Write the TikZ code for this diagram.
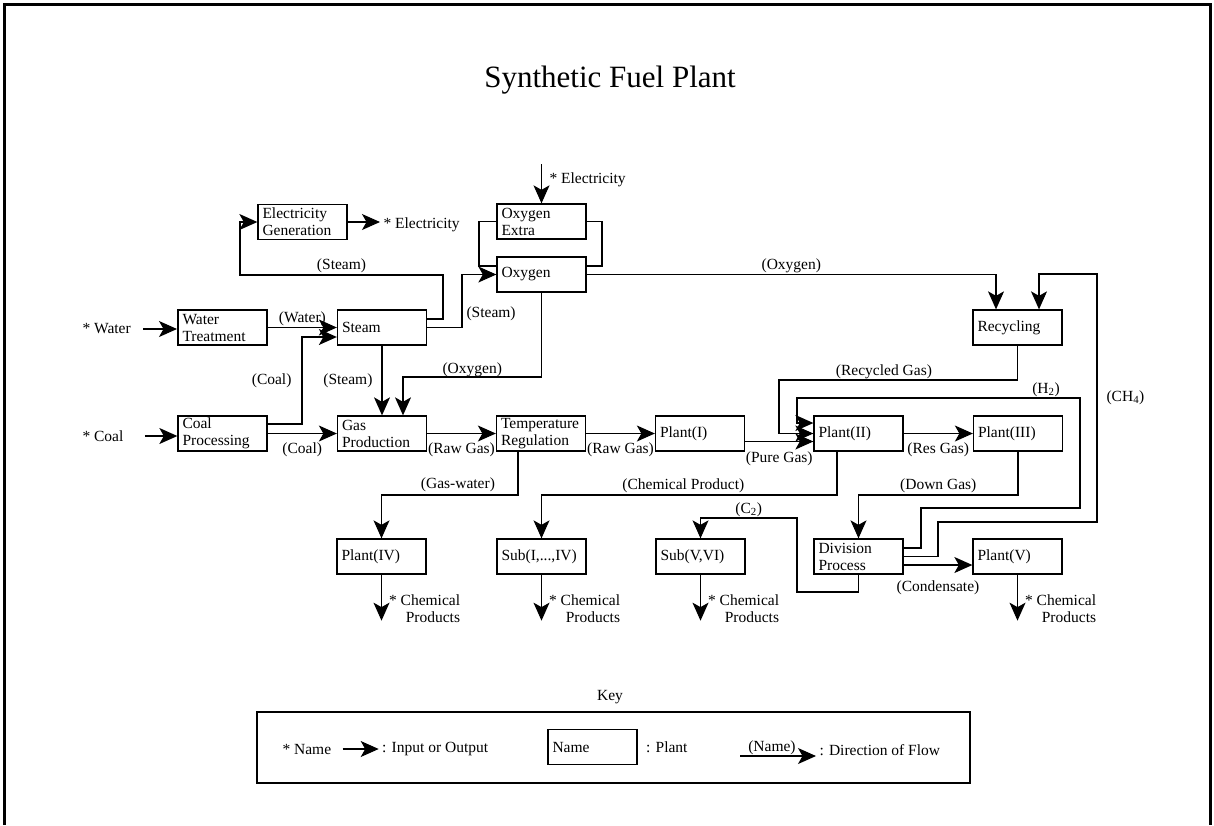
\documentclass[tikz,border=0pt]{standalone}
\usepackage{fontspec}
\setmainfont{Liberation Serif}
\usepackage{tikz}
\usetikzlibrary{arrows.meta,shapes}
\tikzstyle{sfp}=[x=1pt, y=-1pt, every node/.style={font=\fontsize{15.5}{17}\selectfont,
                text=black}]
\tikzstyle{plant}=[draw, rectangle, line width=1.3pt, minimum height=35pt,
                text width=80pt, inner xsep=4.5pt, inner ysep=1pt, align=left]
\tikzstyle{elabel}=[fill=none, draw=none, inner sep=1pt]
\tikzstyle{flow}=[line width=1.1pt, -{Stealth[length=18pt,width=16pt,inset=4.5pt]}]
\tikzstyle{pipe}=[line width=1.1pt]
\tikzstyle{prod}=[align=right, inner sep=0pt]

\begin{document}
\begin{tikzpicture}[sfp]
\path[use as bounding box] (0,0) rectangle (1214,825);
\draw[line width=3pt] (4,825) -- (4,4) -- (1210,4) -- (1210,825);
\node[font=\fontsize{31}{36}\selectfont] (title) at (610,80) {Synthetic Fuel Plant};

% plants
\node[plant] (elecgen) at (302.5,222) {Electricity\\Generation};
\node[plant] (oxyextra) at (541.5,221.5) {Oxygen\\Extra};
\node[plant] (oxygen) at (541.5,274.5) {Oxygen};
\node[plant, line width=2pt] (water) at (222.5,327.5) {Water\\Treatment};
\node[plant] (steam) at (382,327.5) {Steam};
\node[plant] (recycling) at (1017.5,327.5) {Recycling};
\node[plant] (coalproc) at (222.5,433.5) {Coal\\Processing};
\node[plant] (gasprod) at (382,433.5) {Gas\\Production};
\node[plant] (temp) at (541,433.5) {Temperature\\Regulation};
\node[plant] (plant1) at (700,433.5) {Plant(I)};
\node[plant] (plant2) at (858.5,433.5) {Plant(II)};
\node[plant] (plant3) at (1018,433.5) {Plant(III)};
\node[plant] (plant4) at (381.5,556.5) {Plant(IV)};
\node[plant] (sub14) at (541.5,556.5) {Sub(I,...,IV)};
\node[plant] (sub56) at (700.5,556.5) {Sub(V,VI)};
\node[plant] (division) at (858.5,556.5) {Division\\Process};
\node[plant] (plant5) at (1017.5,556.5) {Plant(V)};

% inputs and outputs
\node[anchor=west] (waterin) at (79,329) {* Water};
\node[anchor=west] (coalin) at (79,436) {* Coal};
\node[anchor=west] (elecout) at (380,225) {* Electricity};
\node[anchor=west] (elecin) at (546,180) {* Electricity};
\coordinate (elecsrc) at (541.5,164);
\draw[flow] ([xshift=9pt]waterin.east) -- (waterin.east -| water.west);
\draw[flow] ([xshift=18pt]coalin.east) -- (coalin.east -| coalproc.west);
\draw[flow] (elecgen.east) -- (elecgen.east -| elecout.west);
\draw[flow] (elecsrc) -- (oxyextra.north);
\draw[flow] (plant4.south) -- node[prod, pos=0.75, right=7pt] {* Chemical\\Products} ++(0,46);
\draw[flow] (sub14.south) -- node[prod, pos=0.75, right=7pt] {* Chemical\\Products} ++(0,46);
\draw[flow] (sub56.south) -- node[prod, pos=0.75, right=7pt] {* Chemical\\Products} ++(0,46);
\draw[flow] (plant5.south) -- node[prod, pos=0.75, right=7pt] {* Chemical\\Products} ++(0,46);

% flows
\path[flow]
  (water.east) edge node[elabel, above=0pt] {(Water)} (steam.west)
  (coalproc.east) edge node[elabel, below=8pt] {(Coal)} (gasprod.west)
  (steam.south) edge node[elabel, left=8pt] {(Steam)} (gasprod.north)
  (gasprod.east) edge node[elabel, below=8pt] {(Raw Gas)} (temp.west)
  (temp.east) edge node[elabel, below=8pt] {(Raw Gas)} (plant1.west)
  ([yshift=-8pt]plant1.east) edge node[elabel, below=9pt] {(Pure Gas)} ([yshift=-8pt]plant2.west)
  (plant2.east) edge node[elabel, below=8pt] {(Res Gas)} (plant3.west)
  ([yshift=-8.5pt]division.east) edge node[elabel, below=14pt] {(Condensate)} ([yshift=-8.5pt]plant5.west);
\draw[flow] ([yshift=9.5pt]coalproc.east) -| node[elabel, pos=0.75, left=9pt] {(Coal)}
  (302,337) -- ([yshift=-9.5pt]steam.west);
\draw[flow] ([yshift=8.5pt]steam.east) -| (443,275) -| node[elabel, pos=0.25, above=1pt] {(Steam)}
  (240,222) -- (elecgen.west);
\draw[flow] (steam.east) -| node[elabel, pos=0.63, right=3pt] {(Steam)} (462,274.5) -- (oxygen.west);
\draw[pipe] (oxyextra.west) -| (479,266) -- ([yshift=8.5pt]oxygen.west);
\draw[pipe] (oxyextra.east) -| (602,266) -- ([yshift=8.5pt]oxygen.east);
\draw[flow] (oxygen.east) -| node[elabel, pos=0.25, above=0pt] {(Oxygen)} ([xshift=-21.5pt]recycling.north);
\draw[flow] (oxygen.south) |- node[elabel, pos=0.75, above=-1pt] {(Oxygen)} (403,377) -- ([xshift=21pt]gasprod.north);
\draw[flow] (recycling.south) |- node[elabel, pos=0.78, above=0pt] {(Recycled Gas)} (779,380) |- (plant2.west);
\draw[flow] ([xshift=-23pt]temp.south) |- node[elabel, pos=0.72, above=2pt] {(Gas-water)} (381.5,495) -- (plant4.north);
\draw[flow] ([xshift=-21.5pt]plant2.south) |- node[elabel, pos=0.76, above=1pt] {(Chemical Product)} (541.5,495) -- (sub14.north);
\draw[flow] (plant3.south) |- node[elabel, pos=0.75, above=1pt] {(Down Gas)} (858.5,495) -- (division.north);
\draw[flow] (division.south) |- (797,592) |- node[elabel, pos=0.75, above=0pt] {(C\textsubscript{2})} (700.5,518) -- (sub56.north);
\draw[flow] ([yshift=8.5pt]division.east) -| (921,508) -| (1080,398) -| node[elabel, pos=0.06, above=0pt] {(H\textsubscript{2})}
  (797,423) -- ([yshift=10.5pt]plant2.west);
\draw[flow] (division.east) -| (938,522) -| node[elabel, pos=0.75, right=8pt] {(CH\textsubscript{4})}
  (1097,274) -| ([xshift=21.5pt]recycling.north);

% key
\node (keytitle) at (610,697) {Key};
\node[draw, line width=1.3pt, minimum width=713pt, minimum height=71pt] (keybox) at (613.5,747.5) {};
\node[anchor=west] (keyio) at (279,749) {* Name};
\draw[flow] ([xshift=8pt]keyio.east) -- ++(36,0) coordinate (keyiotip);
\node[anchor=west] (keyiotxt) at (keyiotip) {: Input or Output};
\node[plant] (keyplant) at (592.5,747) {Name};
\node[anchor=west] (keyplanttxt) at ([xshift=5pt]keyplant.east) {: Plant};
\coordinate (keyflow) at (740,756);
\draw[flow] (keyflow) -- node[elabel, pos=0.42, above=0pt] {(Name)} ++(76,0) coordinate (keyflowtip);
\node[anchor=west] (keyflowtxt) at ([yshift=6pt]keyflowtip) {: Direction of Flow};
\end{tikzpicture}
\end{document}
